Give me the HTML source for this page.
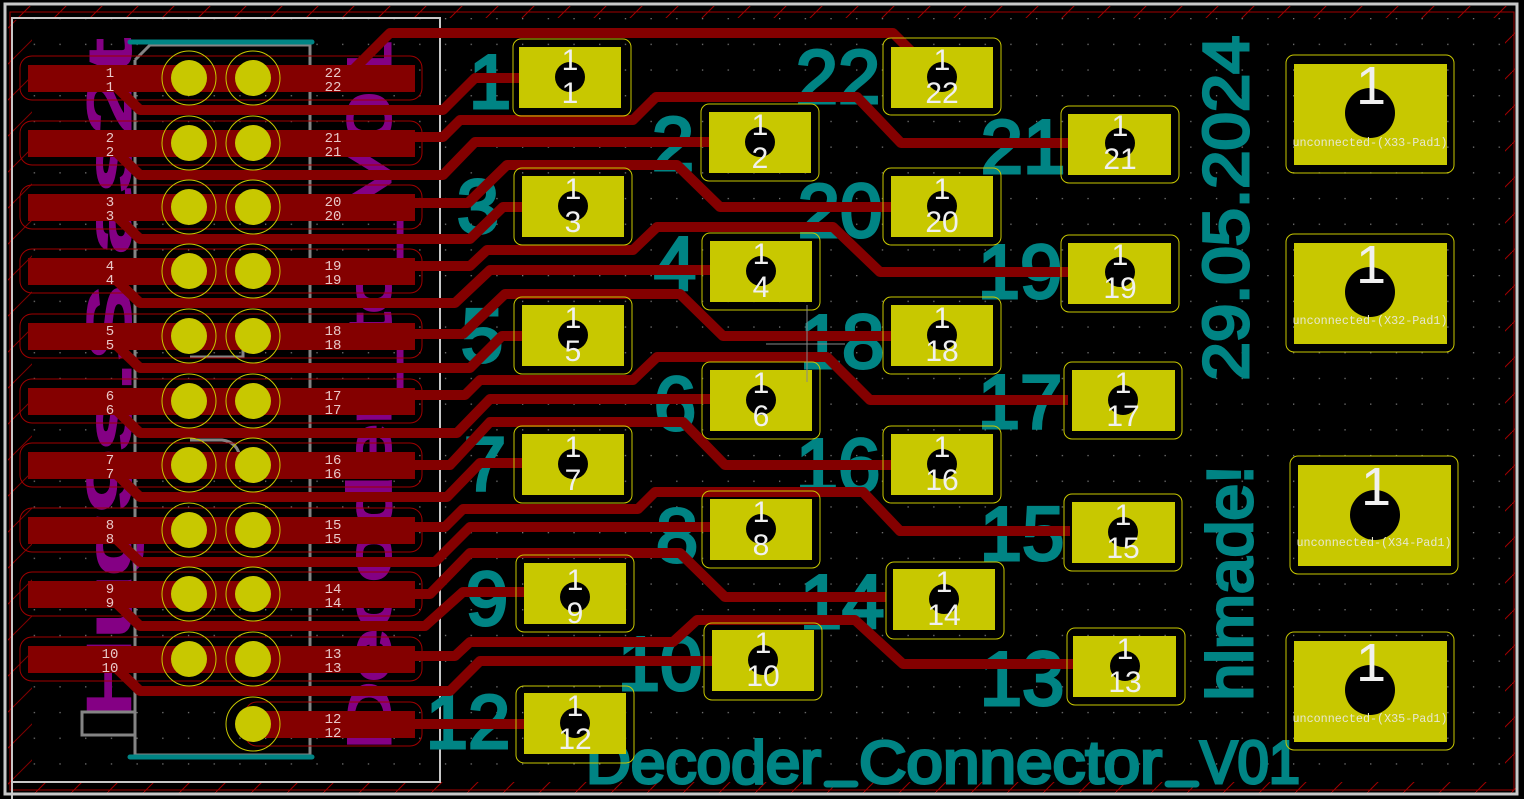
<!DOCTYPE html>
<html><head><meta charset="utf-8"><style>
html,body{margin:0;padding:0;background:#000;}
svg{display:block;}
</style></head><body>
<svg width="1524" height="799" viewBox="0 0 1524 799" xmlns="http://www.w3.org/2000/svg">
<defs>
<pattern id="dots" x="8" y="18" width="25.7" height="25.7" patternUnits="userSpaceOnUse"><rect x="0" y="0" width="1.3" height="1.3" fill="#777"/></pattern>
<pattern id="hatch" width="36" height="36" patternUnits="userSpaceOnUse"><line x1="0" y1="36" x2="36" y2="0" stroke="#a00000" stroke-width="1"/></pattern>
</defs>
<rect width="1524" height="799" fill="#000"/>
<rect x="12" y="18" width="1500" height="770" fill="url(#dots)"/>
<rect x="8" y="6" width="1510" height="12" fill="url(#hatch)"/>
<rect x="8" y="782" width="1510" height="12" fill="url(#hatch)"/>
<rect x="8" y="6" width="6" height="788" fill="url(#hatch)"/>
<rect x="1505" y="6" width="10" height="788" fill="url(#hatch)"/>
<rect x="14" y="20" width="18" height="760" fill="url(#hatch)" opacity="0.8"/>
<rect x="5" y="4" width="1512" height="790" fill="none" stroke="#c8c8c8" stroke-width="3"/>
<rect x="10" y="12" width="1504" height="778" fill="none" stroke="#a00000" stroke-width="1"/>
<polyline points="12,799 12,18 440,18 440,782 12,782" fill="none" stroke="#c8c8c8" stroke-width="2"/>

<!-- purple silk text -->
<g fill="#840084" stroke="#840084" stroke-width="3" font-family="Liberation Sans, sans-serif">
<text transform="translate(130,380) rotate(-90)" text-anchor="middle" font-size="60" textLength="680" lengthAdjust="spacingAndGlyphs">Hug9s.S.as2t</text>
<text transform="translate(390,395) rotate(-90)" text-anchor="middle" font-size="60" textLength="710" lengthAdjust="spacingAndGlyphs">Decoder_to_V01</text>
</g>

<!-- teal ref labels -->
<g fill="#008484" stroke="#008484" stroke-width="3" font-family="Liberation Sans, sans-serif" font-size="76" text-anchor="middle">
<text x="490" y="108">1</text>
<text x="673" y="170">2</text>
<text x="478" y="233">3</text>
<text x="675" y="290">4</text>
<text x="482" y="362">5</text>
<text x="675" y="430">6</text>
<text x="485" y="490">7</text>
<text x="677" y="562">8</text>
<text x="487" y="625">9</text>
<text x="660" y="690">10</text>
<text x="468" y="748">12</text>
<text x="838" y="103">22</text>
<text x="1023" y="173">21</text>
<text x="840" y="237">20</text>
<text x="1020" y="298">19</text>
<text x="842" y="368">18</text>
<text x="1020" y="428">17</text>
<text x="838" y="492">16</text>
<text x="1022" y="560">15</text>
<text x="842" y="628">14</text>
<text x="1022" y="705">13</text>
</g>
<g fill="#008484" stroke="#008484" stroke-width="3" font-family="Liberation Sans, sans-serif">
<text x="586" y="783" font-size="60" textLength="235" lengthAdjust="spacingAndGlyphs">Decoder</text>
<text x="859" y="783" font-size="60" textLength="303" lengthAdjust="spacingAndGlyphs">Connector</text>
<text x="1200" y="783" font-size="60" textLength="100" lengthAdjust="spacingAndGlyphs">V01</text>
<text transform="translate(1248,208) rotate(-90)" text-anchor="middle" font-size="64" textLength="345" lengthAdjust="spacingAndGlyphs">29.05.2024</text>
<text transform="translate(1252,583) rotate(-90)" text-anchor="middle" font-size="64" textLength="235" lengthAdjust="spacingAndGlyphs">hlmade!</text>
</g>
<g stroke="#008484" stroke-width="7" stroke-linecap="round">
<line x1="827" y1="784" x2="855" y2="784"/>
<line x1="1168" y1="784" x2="1196" y2="784"/>
</g>

<!-- connector silk -->
<g fill="none" stroke="#848484" stroke-width="3">
<polyline points="135,60 150,45 310,45 310,755 135,755 135,60"/>
<polyline points="135,712 82,712 82,735 135,735"/>
<polyline points="190,357 243,357 243,345"/>
<polyline points="205,403 250,403"/>
<path d="M190,440 L222,440 Q238,442 240,458"/>
</g>
<line x1="130" y1="42" x2="312" y2="42" stroke="#008484" stroke-width="5" stroke-linecap="round"/>
<line x1="130" y1="757" x2="312" y2="757" stroke="#008484" stroke-width="5" stroke-linecap="round"/>

<g fill="none" stroke="#a00000" stroke-width="1">
<rect x="20" y="56" width="402" height="44" rx="12"/>
<rect x="20" y="121" width="402" height="44" rx="12"/>
<rect x="20" y="185" width="402" height="44" rx="12"/>
<rect x="20" y="249" width="402" height="44" rx="12"/>
<rect x="20" y="314" width="402" height="44" rx="12"/>
<rect x="20" y="379" width="402" height="44" rx="12"/>
<rect x="20" y="443" width="402" height="44" rx="12"/>
<rect x="20" y="508" width="402" height="44" rx="12"/>
<rect x="20" y="572" width="402" height="44" rx="12"/>
<rect x="20" y="637" width="402" height="44" rx="12"/>
<rect x="245" y="702" width="177" height="44" rx="12"/>
</g>
<g fill="#840000">
<rect x="28" y="65" width="387" height="27"/>
<rect x="28" y="130" width="387" height="27"/>
<rect x="28" y="194" width="387" height="27"/>
<rect x="28" y="258" width="387" height="27"/>
<rect x="28" y="323" width="387" height="27"/>
<rect x="28" y="388" width="387" height="27"/>
<rect x="28" y="452" width="387" height="27"/>
<rect x="28" y="517" width="387" height="27"/>
<rect x="28" y="581" width="387" height="27"/>
<rect x="28" y="646" width="387" height="27"/>
<rect x="255" y="711" width="160" height="27"/>
</g>

<g fill="none" stroke="#840000" stroke-width="10" stroke-linejoin="round">
<polyline points="112,83 140,110 443,110 475,78 521,78"/>
<polyline points="345,78 390,33 893,33 915,55"/>
<polyline points="112,148 140,175 443,175 475,142 710,142"/>
<polyline points="405,137 443,137 460,120 633,120 656,97 857,97 901,143 1068,143"/>
<polyline points="112,212 140,239 470,239 503,207 522,207"/>
<polyline points="405,203 468,203 507,165 677,165 720,207 891,207"/>
<polyline points="112,276 140,303 455,303 490,270 710,270"/>
<polyline points="405,266 470,266 487,250 633,250 657,227 833,227 880,272 1068,272"/>
<polyline points="112,341 140,368 470,368 502,336 522,336"/>
<polyline points="405,334 463,334 505,294 680,294 723,336 891,336"/>
<polyline points="112,406 140,433 457,433 490,399 710,399"/>
<polyline points="405,395 465,395 480,380 633,380 657,357 827,357 870,400 1068,400"/>
<polyline points="112,470 140,497 447,497 480,463 522,463"/>
<polyline points="405,465 450,465 490,422 683,422 725,465 891,465"/>
<polyline points="112,535 140,562 435,562 470,527 710,527"/>
<polyline points="405,527 445,527 463,509 638,509 655,492 863,492 900,531 1070,531"/>
<polyline points="112,599 140,626 425,626 463,592 524,592"/>
<polyline points="405,594 430,594 470,553 680,553 725,597 886,597"/>
<polyline points="112,664 140,691 450,691 480,661 712,661"/>
<polyline points="405,656 455,656 470,642 673,642 697,620 855,620 903,664 1073,664"/>
<polyline points="405,724 524,724"/>
</g>

<g fill="none" stroke="#c8c800" stroke-width="1">
<circle cx="189" cy="78" r="27"/><circle cx="253" cy="78" r="27"/>
<circle cx="189" cy="143" r="27"/><circle cx="253" cy="143" r="27"/>
<circle cx="189" cy="207" r="27"/><circle cx="253" cy="207" r="27"/>
<circle cx="189" cy="271" r="27"/><circle cx="253" cy="271" r="27"/>
<circle cx="189" cy="336" r="27"/><circle cx="253" cy="336" r="27"/>
<circle cx="189" cy="401" r="27"/><circle cx="253" cy="401" r="27"/>
<circle cx="189" cy="465" r="27"/><circle cx="253" cy="465" r="27"/>
<circle cx="189" cy="530" r="27"/><circle cx="253" cy="530" r="27"/>
<circle cx="189" cy="594" r="27"/><circle cx="253" cy="594" r="27"/>
<circle cx="189" cy="659" r="27"/><circle cx="253" cy="659" r="27"/>
<circle cx="253" cy="724" r="27"/>
</g>
<g fill="#c8c800">
<circle cx="189" cy="78" r="18"/><circle cx="253" cy="78" r="18"/>
<circle cx="189" cy="143" r="18"/><circle cx="253" cy="143" r="18"/>
<circle cx="189" cy="207" r="18"/><circle cx="253" cy="207" r="18"/>
<circle cx="189" cy="271" r="18"/><circle cx="253" cy="271" r="18"/>
<circle cx="189" cy="336" r="18"/><circle cx="253" cy="336" r="18"/>
<circle cx="189" cy="401" r="18"/><circle cx="253" cy="401" r="18"/>
<circle cx="189" cy="465" r="18"/><circle cx="253" cy="465" r="18"/>
<circle cx="189" cy="530" r="18"/><circle cx="253" cy="530" r="18"/>
<circle cx="189" cy="594" r="18"/><circle cx="253" cy="594" r="18"/>
<circle cx="189" cy="659" r="18"/><circle cx="253" cy="659" r="18"/>
<circle cx="253" cy="724" r="18"/>
</g>

<g fill="#e8c8c8" font-family="Liberation Mono, monospace" font-size="14" text-anchor="middle">
<text x="110" y="77">1</text><text x="110" y="91">1</text><text x="333" y="77">22</text><text x="333" y="91">22</text>
<text x="110" y="142">2</text><text x="110" y="156">2</text><text x="333" y="142">21</text><text x="333" y="156">21</text>
<text x="110" y="206">3</text><text x="110" y="220">3</text><text x="333" y="206">20</text><text x="333" y="220">20</text>
<text x="110" y="270">4</text><text x="110" y="284">4</text><text x="333" y="270">19</text><text x="333" y="284">19</text>
<text x="110" y="335">5</text><text x="110" y="349">5</text><text x="333" y="335">18</text><text x="333" y="349">18</text>
<text x="110" y="400">6</text><text x="110" y="414">6</text><text x="333" y="400">17</text><text x="333" y="414">17</text>
<text x="110" y="464">7</text><text x="110" y="478">7</text><text x="333" y="464">16</text><text x="333" y="478">16</text>
<text x="110" y="529">8</text><text x="110" y="543">8</text><text x="333" y="529">15</text><text x="333" y="543">15</text>
<text x="110" y="593">9</text><text x="110" y="607">9</text><text x="333" y="593">14</text><text x="333" y="607">14</text>
<text x="110" y="658">10</text><text x="110" y="672">10</text><text x="333" y="658">13</text><text x="333" y="672">13</text>
<text x="333" y="723">12</text><text x="333" y="737">12</text>
</g>

<g fill="none" stroke="#c8c800" stroke-width="1">
<rect x="513" y="39" width="118" height="77" rx="8"/>
<rect x="514" y="168" width="118" height="77" rx="8"/>
<rect x="514" y="297" width="118" height="77" rx="8"/>
<rect x="514" y="426" width="118" height="77" rx="8"/>
<rect x="516" y="555" width="118" height="77" rx="8"/>
<rect x="516" y="686" width="118" height="77" rx="8"/>
<rect x="701" y="104" width="118" height="77" rx="8"/>
<rect x="702" y="233" width="118" height="77" rx="8"/>
<rect x="702" y="362" width="118" height="77" rx="8"/>
<rect x="702" y="491" width="118" height="77" rx="8"/>
<rect x="704" y="623" width="118" height="77" rx="8"/>
<rect x="883" y="38" width="118" height="77" rx="8"/>
<rect x="883" y="168" width="118" height="77" rx="8"/>
<rect x="883" y="297" width="118" height="77" rx="8"/>
<rect x="883" y="426" width="118" height="77" rx="8"/>
<rect x="886" y="562" width="118" height="77" rx="8"/>
<rect x="1061" y="106" width="118" height="77" rx="8"/>
<rect x="1061" y="235" width="118" height="77" rx="8"/>
<rect x="1064" y="362" width="118" height="77" rx="8"/>
<rect x="1064" y="494" width="118" height="77" rx="8"/>
<rect x="1067" y="628" width="118" height="77" rx="8"/>
<rect x="1286" y="55" width="168" height="118" rx="8"/>
<rect x="1286" y="234" width="168" height="118" rx="8"/>
<rect x="1290" y="456" width="168" height="118" rx="8"/>
<rect x="1286" y="632" width="168" height="118" rx="8"/>
</g>
<g fill="#c8c800">
<rect x="519" y="47" width="102" height="61"/>
<rect x="522" y="176" width="102" height="61"/>
<rect x="522" y="305" width="102" height="61"/>
<rect x="522" y="434" width="102" height="61"/>
<rect x="524" y="563" width="102" height="61"/>
<rect x="524" y="693" width="102" height="61"/>
<rect x="709" y="112" width="102" height="61"/>
<rect x="710" y="241" width="102" height="61"/>
<rect x="710" y="370" width="102" height="61"/>
<rect x="710" y="499" width="102" height="61"/>
<rect x="712" y="630" width="102" height="61"/>
<rect x="891" y="47" width="102" height="61"/>
<rect x="891" y="176" width="102" height="61"/>
<rect x="891" y="305" width="102" height="61"/>
<rect x="891" y="434" width="102" height="61"/>
<rect x="893" y="569" width="102" height="61"/>
<rect x="1068" y="114" width="103" height="61"/>
<rect x="1068" y="243" width="103" height="61"/>
<rect x="1072" y="370" width="103" height="61"/>
<rect x="1072" y="502" width="103" height="61"/>
<rect x="1073" y="636" width="103" height="61"/>
<rect x="1294" y="64" width="153" height="101"/>
<rect x="1294" y="243" width="153" height="101"/>
<rect x="1298" y="465" width="153" height="101"/>
<rect x="1294" y="641" width="153" height="101"/>
</g>
<g fill="#000">
<circle cx="570" cy="77" r="15"/><circle cx="573" cy="206" r="15"/><circle cx="573" cy="335" r="15"/>
<circle cx="573" cy="464" r="15"/><circle cx="575" cy="597" r="15"/><circle cx="575" cy="723" r="15"/>
<circle cx="760" cy="142" r="15"/><circle cx="761" cy="271" r="15"/><circle cx="761" cy="400" r="15"/>
<circle cx="761" cy="529" r="15"/><circle cx="763" cy="660" r="15"/>
<circle cx="942" cy="77" r="15"/><circle cx="942" cy="206" r="15"/><circle cx="942" cy="335" r="15"/>
<circle cx="942" cy="464" r="15"/><circle cx="944" cy="599" r="15"/>
<circle cx="1120" cy="143" r="15"/><circle cx="1120" cy="272" r="15"/><circle cx="1123" cy="400" r="15"/>
<circle cx="1123" cy="532" r="15"/><circle cx="1125" cy="666" r="15"/>
<circle cx="1370" cy="113" r="25"/><circle cx="1370" cy="292" r="25"/><circle cx="1375" cy="515" r="25"/><circle cx="1370" cy="690" r="25"/>
</g>
<g fill="#f0f0f0" font-family="Liberation Sans, sans-serif" font-size="30" text-anchor="middle">
<text x="570" y="70">1</text><text x="570" y="103">1</text>
<text x="573" y="199">1</text><text x="573" y="232">3</text>
<text x="573" y="328">1</text><text x="573" y="361">5</text>
<text x="573" y="457">1</text><text x="573" y="490">7</text>
<text x="575" y="590">1</text><text x="575" y="623">9</text>
<text x="575" y="716">1</text><text x="575" y="749">12</text>
<text x="760" y="135">1</text><text x="760" y="168">2</text>
<text x="761" y="264">1</text><text x="761" y="297">4</text>
<text x="761" y="393">1</text><text x="761" y="426">6</text>
<text x="761" y="522">1</text><text x="761" y="555">8</text>
<text x="763" y="653">1</text><text x="763" y="686">10</text>
<text x="942" y="70">1</text><text x="942" y="103">22</text>
<text x="942" y="199">1</text><text x="942" y="232">20</text>
<text x="942" y="328">1</text><text x="942" y="361">18</text>
<text x="942" y="457">1</text><text x="942" y="490">16</text>
<text x="944" y="592">1</text><text x="944" y="625">14</text>
<text x="1120" y="136">1</text><text x="1120" y="169">21</text>
<text x="1120" y="265">1</text><text x="1120" y="298">19</text>
<text x="1123" y="393">1</text><text x="1123" y="426">17</text>
<text x="1123" y="525">1</text><text x="1123" y="558">15</text>
<text x="1125" y="659">1</text><text x="1125" y="692">13</text>
</g>
<g fill="#f0f0f0" font-family="Liberation Sans, sans-serif" text-anchor="middle">
<text x="1371" y="104" font-size="54">1</text>
<text x="1371" y="283" font-size="54">1</text>
<text x="1376" y="505" font-size="54">1</text>
<text x="1371" y="681" font-size="54">1</text>
</g>
<g fill="#e8e8d0" font-family="Liberation Mono, monospace" font-size="12" text-anchor="middle">
<text x="1370" y="146" textLength="155" lengthAdjust="spacingAndGlyphs">unconnected-(X33-Pad1)</text>
<text x="1370" y="324" textLength="155" lengthAdjust="spacingAndGlyphs">unconnected-(X32-Pad1)</text>
<text x="1374" y="546" textLength="155" lengthAdjust="spacingAndGlyphs">unconnected-(X34-Pad1)</text>
<text x="1370" y="722" textLength="155" lengthAdjust="spacingAndGlyphs">unconnected-(X35-Pad1)</text>
</g>
<line x1="807" y1="305" x2="807" y2="382" stroke="#888" stroke-width="1"/>
<line x1="766" y1="344" x2="845" y2="344" stroke="#888" stroke-width="1"/>
</svg>
</body></html>
